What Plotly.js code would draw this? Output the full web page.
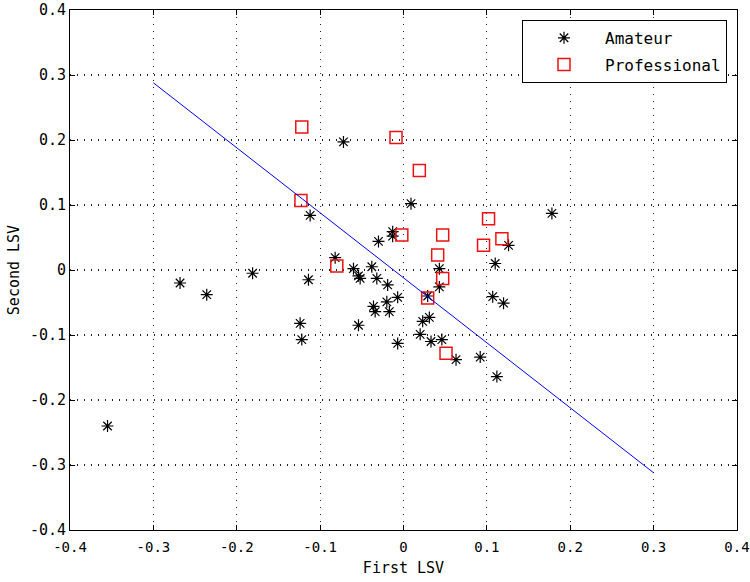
<!DOCTYPE html>
<html>
<head>
<meta charset="utf-8">
<script src="https://cdn.plot.ly/plotly-3.0.1.min.js"></script>
<style>html,body{margin:0;padding:0;background:#fff;}#chart{width:750px;height:582px;}</style>
</head>
<body>
<div id="chart"></div>
<script>
const amateurX = [-0.355,-0.268,-0.236,-0.181,-0.072,0.009,-0.112,-0.013,-0.013,-0.030,-0.082,-0.114,-0.060,-0.038,-0.054,-0.052,-0.032,-0.019,0.043,0.043,-0.007,-0.020,-0.036,-0.034,-0.017,0.029,0.031,0.023,-0.054,-0.124,-0.122,0.020,0.033,0.046,-0.007,0.063,0.092,0.112,0.110,0.126,0.107,0.120,0.178];
const amateurY = [-0.240,-0.020,-0.038,-0.005,0.197,0.102,0.084,0.059,0.052,0.044,0.019,-0.015,0.002,0.005,-0.009,-0.013,-0.013,-0.023,0.002,-0.026,-0.042,-0.049,-0.056,-0.064,-0.064,-0.040,-0.073,-0.079,-0.085,-0.082,-0.107,-0.099,-0.110,-0.107,-0.113,-0.138,-0.134,-0.164,0.010,0.038,-0.041,-0.051,0.087];
const proX = [-0.122,-0.009,0.019,-0.123,-0.002,0.047,0.041,-0.080,0.047,0.029,0.051,0.102,0.118,0.096];
const proY = [0.220,0.204,0.153,0.107,0.054,0.054,0.023,0.006,-0.013,-0.043,-0.128,0.079,0.048,0.038];
const lineX = [-0.3, 0.3];
const lineY = [0.288, -0.312];
const tickVals = [-0.4,-0.3,-0.2,-0.1,0,0.1,0.2,0.3,0.4];
const tickText = ['-0.4','-0.3','-0.2','-0.1','0','0.1','0.2','0.3','0.4'];

const font = {family: 'DejaVu Sans Mono, monospace', size: 15, color: '#000'};
const xTickFont = {family: 'DejaVu Sans Mono, monospace', size: 14, color: '#000'};
const legendFont = {family: 'DejaVu Sans Mono, monospace', size: 16, color: '#000'};

const traces = [
  {x: amateurX, y: amateurY, mode: 'markers', type: 'scatter', name: 'Amateur', legendgroup: 'a',
   marker: {symbol: 'asterisk-open', size: 10, color: '#000', line: {color: '#000', width: 1.2}}},
  {x: proX, y: proY, mode: 'markers', type: 'scatter', name: 'Professional', legendgroup: 'p',
   marker: {symbol: 'square-open', size: 12, color: '#ee1111', line: {color: '#ee1111', width: 1.5}}},
  {x: lineX, y: lineY, mode: 'lines', type: 'scatter', name: 'fit', showlegend: false,
   line: {color: '#0000ff', width: 1}}
];

const axisCommon = {
  tickvals: tickVals, ticktext: tickText, range: [-0.4, 0.4],
  showgrid: true, gridcolor: '#222', griddash: '1px,6px', gridwidth: 1.2,
  zeroline: false, showline: true, linecolor: '#000', linewidth: 1, mirror: 'ticks',
  ticks: 'inside', ticklen: 5, tickcolor: '#000', tickfont: font, ticklabeloverflow: 'allow'
};

const layout = {
  width: 750, height: 582,
  margin: {l: 70, r: 13, t: 10, b: 52},
  paper_bgcolor: '#fff', plot_bgcolor: '#fff',
  font: font,
  xaxis: Object.assign({}, axisCommon, {tickfont: xTickFont, ticklabelstandoff: 4,
    title: {text: 'First LSV', font: font, standoff: 8}}),
  yaxis: Object.assign({}, axisCommon, {title: {text: 'Second LSV', font: font, standoff: 6}}),
  showlegend: true,
  legend: {x: 0.985, y: 0.981, xanchor: 'right', yanchor: 'top', bgcolor: '#fff',
           bordercolor: '#000', borderwidth: 1, font: legendFont, tracegroupgap: 3, itemwidth: 72}
};

Plotly.newPlot('chart', traces, layout, {staticPlot: true, displayModeBar: false});
</script>
</body>
</html>
